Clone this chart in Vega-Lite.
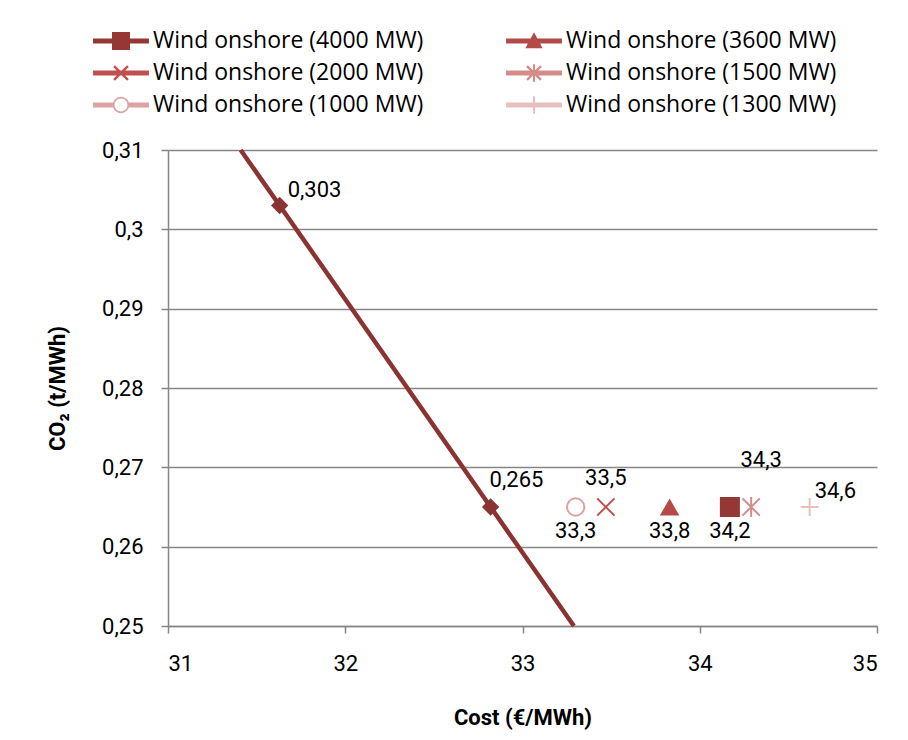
{
  "$schema": "https://vega.github.io/schema/vega-lite/v6.json",
  "width": 709,
  "height": 476,
  "autosize": {"type": "none"},
  "padding": {"left": 168, "top": 150, "right": 31, "bottom": 114},
  "background": "white",
  "config": {
    "locale": {"number": {"decimal": ",", "thousands": ".", "grouping": [3], "currency": ["", " €"]}},
    "view": {"stroke": null},
    "axis": {
      "domainColor": "#868686", "domainWidth": 1.5,
      "tickColor": "#868686", "tickWidth": 1.5, "tickSize": 7,
      "gridColor": "#868686", "gridWidth": 1.5,
      "labelColor": "#000000", "titleColor": "#000000"
    }
  },
  "datasets": {
    "frontier": [
      {"cost": 31.41, "co2": 0.31},
      {"cost": 31.63, "co2": 0.303},
      {"cost": 32.82, "co2": 0.265},
      {"cost": 33.29, "co2": 0.25}
    ],
    "wind": [
      {"series": "Wind onshore (4000 MW)", "cost": 34.17, "co2": 0.265},
      {"series": "Wind onshore (3600 MW)", "cost": 33.83, "co2": 0.265},
      {"series": "Wind onshore (2000 MW)", "cost": 33.47, "co2": 0.265},
      {"series": "Wind onshore (1500 MW)", "cost": 34.29, "co2": 0.265},
      {"series": "Wind onshore (1000 MW)", "cost": 33.3, "co2": 0.265},
      {"series": "Wind onshore (1300 MW)", "cost": 34.62, "co2": 0.265}
    ]
  },
  "encoding": {
    "x": {
      "field": "cost", "type": "quantitative",
      "scale": {"domain": [31, 35], "nice": false, "zero": false},
      "axis": {
        "values": [31, 32, 33, 34, 35], "format": "d", "grid": false,
        "labelFont": "Roboto", "labelFontSize": 22, "labelPadding": 20,
        "title": "Cost (€/MWh)", "titleFont": "Roboto", "titleFontSize": 22, "titleFontWeight": "bold", "titlePadding": 33
      }
    },
    "y": {
      "field": "co2", "type": "quantitative",
      "scale": {"domain": [0.25, 0.31], "nice": false, "zero": false},
      "axis": {
        "values": [0.25, 0.26, 0.27, 0.28, 0.29, 0.3, 0.31], "format": "~g", "grid": true,
        "labelFont": "Roboto", "labelFontSize": 22, "labelPadding": 18,
        "title": "CO₂ (t/MWh)", "titleFont": "Roboto", "titleFontSize": 22, "titleFontWeight": "bold", "titlePadding": 32
      }
    }
  },
  "layer": [
    {
      "data": {"name": "frontier"},
      "mark": {"type": "line", "color": "#8B3333", "strokeWidth": 4.5},
      "encoding": {}
    },
    {
      "data": {"name": "frontier"},
      "transform": [{"filter": "datum.co2 < 0.31 && datum.co2 > 0.25"}],
      "mark": {"type": "point", "shape": "diamond", "filled": true, "color": "#8B3333", "size": 300, "opacity": 1},
      "encoding": {}
    },
    {
      "data": {"name": "frontier"},
      "transform": [{"filter": "datum.co2 == 0.303"}],
      "mark": {"type": "text", "font": "Roboto", "fontSize": 22, "color": "#000000", "align": "left", "baseline": "middle", "dx": 8, "dy": -16},
      "encoding": {"text": {"field": "co2", "type": "quantitative", "format": ".3f"}}
    },
    {
      "data": {"name": "frontier"},
      "transform": [{"filter": "datum.co2 == 0.265"}],
      "mark": {"type": "text", "font": "Roboto", "fontSize": 22, "color": "#000000", "align": "left", "baseline": "middle", "dx": -1, "dy": -27},
      "encoding": {"text": {"field": "co2", "type": "quantitative", "format": ".3f"}}
    },
    {
      "data": {"name": "wind"},
      "transform": [{"filter": "datum.series == 'Wind onshore (4000 MW)'"}],
      "mark": {"type": "point", "shape": "square", "filled": true, "color": "#953735", "size": 400, "opacity": 1},
      "encoding": {}
    },
    {
      "data": {"name": "wind"},
      "transform": [{"filter": "datum.series == 'Wind onshore (3600 MW)'"}],
      "mark": {"type": "point", "shape": "triangle-up", "filled": true, "color": "#B34A48", "size": 380, "opacity": 1},
      "encoding": {}
    },
    {
      "data": {"name": "wind"},
      "transform": [{"filter": "datum.series == 'Wind onshore (2000 MW)'"}],
      "mark": {"type": "point", "shape": "M-1,-1L1,1M-1,1L1,-1", "filled": false, "color": "#C0504D", "size": 300, "strokeWidth": 2, "opacity": 1},
      "encoding": {}
    },
    {
      "data": {"name": "wind"},
      "transform": [{"filter": "datum.series == 'Wind onshore (1500 MW)'"}],
      "mark": {"type": "point", "shape": "M-1,-1L1,1M-1,1L1,-1M0,-1.15V1.15", "filled": false, "color": "#D38C8A", "size": 300, "strokeWidth": 2, "opacity": 1},
      "encoding": {}
    },
    {
      "data": {"name": "wind"},
      "transform": [{"filter": "datum.series == 'Wind onshore (1000 MW)'"}],
      "mark": {"type": "point", "shape": "circle", "filled": false, "color": "#DBA3A2", "size": 300, "strokeWidth": 2, "opacity": 1},
      "encoding": {}
    },
    {
      "data": {"name": "wind"},
      "transform": [{"filter": "datum.series == 'Wind onshore (1300 MW)'"}],
      "mark": {"type": "point", "shape": "M-1,0H1M0,-1V1", "filled": false, "color": "#E6BFBE", "size": 324, "strokeWidth": 2, "opacity": 1},
      "encoding": {}
    },
    {
      "data": {"name": "wind"},
      "transform": [{"filter": "false"}],
      "mark": {"type": "point", "filled": true, "opacity": 1, "strokeWidth": 0},
      "encoding": {
        "color": {"field": "series", "type": "nominal",
          "scale": {"domain": ["Wind onshore (4000 MW)", "Wind onshore (2000 MW)", "Wind onshore (1000 MW)", "Wind onshore (3600 MW)", "Wind onshore (1500 MW)", "Wind onshore (1300 MW)"], "range": ["#953735", "#C0504D", "#DBA3A2", "#B34A48", "#D38C8A", "#E6BFBE"]},
          "legend": {
            "orient": "none", "legendX": -59, "legendY": -121, "columns": 2, "columnPadding": 82, "rowPadding": 8,
            "title": null, "symbolSize": 576, "symbolStrokeWidth": 0, "symbolOpacity": 1,
            "labelFont": "Open Sans", "labelFontSize": 23, "labelColor": "#000000", "labelOffset": 20, "labelLimit": 400
          }
        },
        "shape": {"field": "series", "type": "nominal",
          "scale": {"domain": ["Wind onshore (4000 MW)", "Wind onshore (2000 MW)", "Wind onshore (1000 MW)", "Wind onshore (3600 MW)", "Wind onshore (1500 MW)", "Wind onshore (1300 MW)"], "range": [
            "M-2.33,-0.2H2.33V0.2H-2.33Z M-0.75,-0.75H0.75V0.75H-0.75Z",
            "M-2.33,-0.2H2.33V0.2H-2.33Z M-0.51,-0.65L0.65,0.51L0.51,0.65L-0.65,-0.51Z M-0.65,0.51L0.51,-0.65L0.65,-0.51L-0.51,0.65Z",
            "M-2.33,-0.2H-0.58V0.2H-2.33Z M0.58,-0.2H2.33V0.2H0.58Z M0,-0.68A0.68,0.68 0 1,1 0,0.68A0.68,0.68 0 1,1 0,-0.68Z M0,-0.54A0.54,0.54 0 1,0 0,0.54A0.54,0.54 0 1,0 0,-0.54Z",
            "M-2.33,-0.2H2.33V0.2H-2.33Z M0,-0.72L0.72,0.6H-0.72Z",
            "M-2.33,-0.2H2.33V0.2H-2.33Z M-0.51,-0.65L0.65,0.51L0.51,0.65L-0.65,-0.51Z M-0.65,0.51L0.51,-0.65L0.65,-0.51L-0.51,0.65Z M-0.09,-0.72H0.09V0.72H-0.09Z",
            "M-2.33,-0.2H2.33V0.2H-2.33Z M-0.08,-0.72H0.08V0.72H-0.08Z"
          ]},
          "legend": {
            "orient": "none", "legendX": -59, "legendY": -121, "columns": 2, "columnPadding": 82, "rowPadding": 8,
            "title": null, "symbolSize": 576, "symbolStrokeWidth": 0, "symbolOpacity": 1,
            "labelFont": "Open Sans", "labelFontSize": 23, "labelColor": "#000000", "labelOffset": 20, "labelLimit": 400
          }
        }
      }
    },
    {
      "data": {"name": "wind"},
      "transform": [{"filter": "datum.series == 'Wind onshore (1000 MW)' || datum.series == 'Wind onshore (3600 MW)' || datum.series == 'Wind onshore (4000 MW)'"}],
      "mark": {"type": "text", "font": "Roboto", "fontSize": 22, "color": "#000000", "align": "center", "baseline": "middle", "dy": 24},
      "encoding": {"text": {"field": "cost", "type": "quantitative", "format": ".1f"}}
    },
    {
      "data": {"name": "wind"},
      "transform": [{"filter": "datum.series == 'Wind onshore (2000 MW)'"}],
      "mark": {"type": "text", "font": "Roboto", "fontSize": 22, "color": "#000000", "align": "center", "baseline": "middle", "dy": -29},
      "encoding": {"text": {"field": "cost", "type": "quantitative", "format": ".1f"}}
    },
    {
      "data": {"name": "wind"},
      "transform": [{"filter": "datum.series == 'Wind onshore (1500 MW)'"}],
      "mark": {"type": "text", "font": "Roboto", "fontSize": 22, "color": "#000000", "align": "center", "baseline": "middle", "dx": 10, "dy": -47},
      "encoding": {"text": {"field": "cost", "type": "quantitative", "format": ".1f"}}
    },
    {
      "data": {"name": "wind"},
      "transform": [{"filter": "datum.series == 'Wind onshore (1300 MW)'"}],
      "mark": {"type": "text", "font": "Roboto", "fontSize": 22, "color": "#000000", "align": "left", "baseline": "middle", "dx": 5, "dy": -16},
      "encoding": {"text": {"field": "cost", "type": "quantitative", "format": ".1f"}}
    }
  ]
}
